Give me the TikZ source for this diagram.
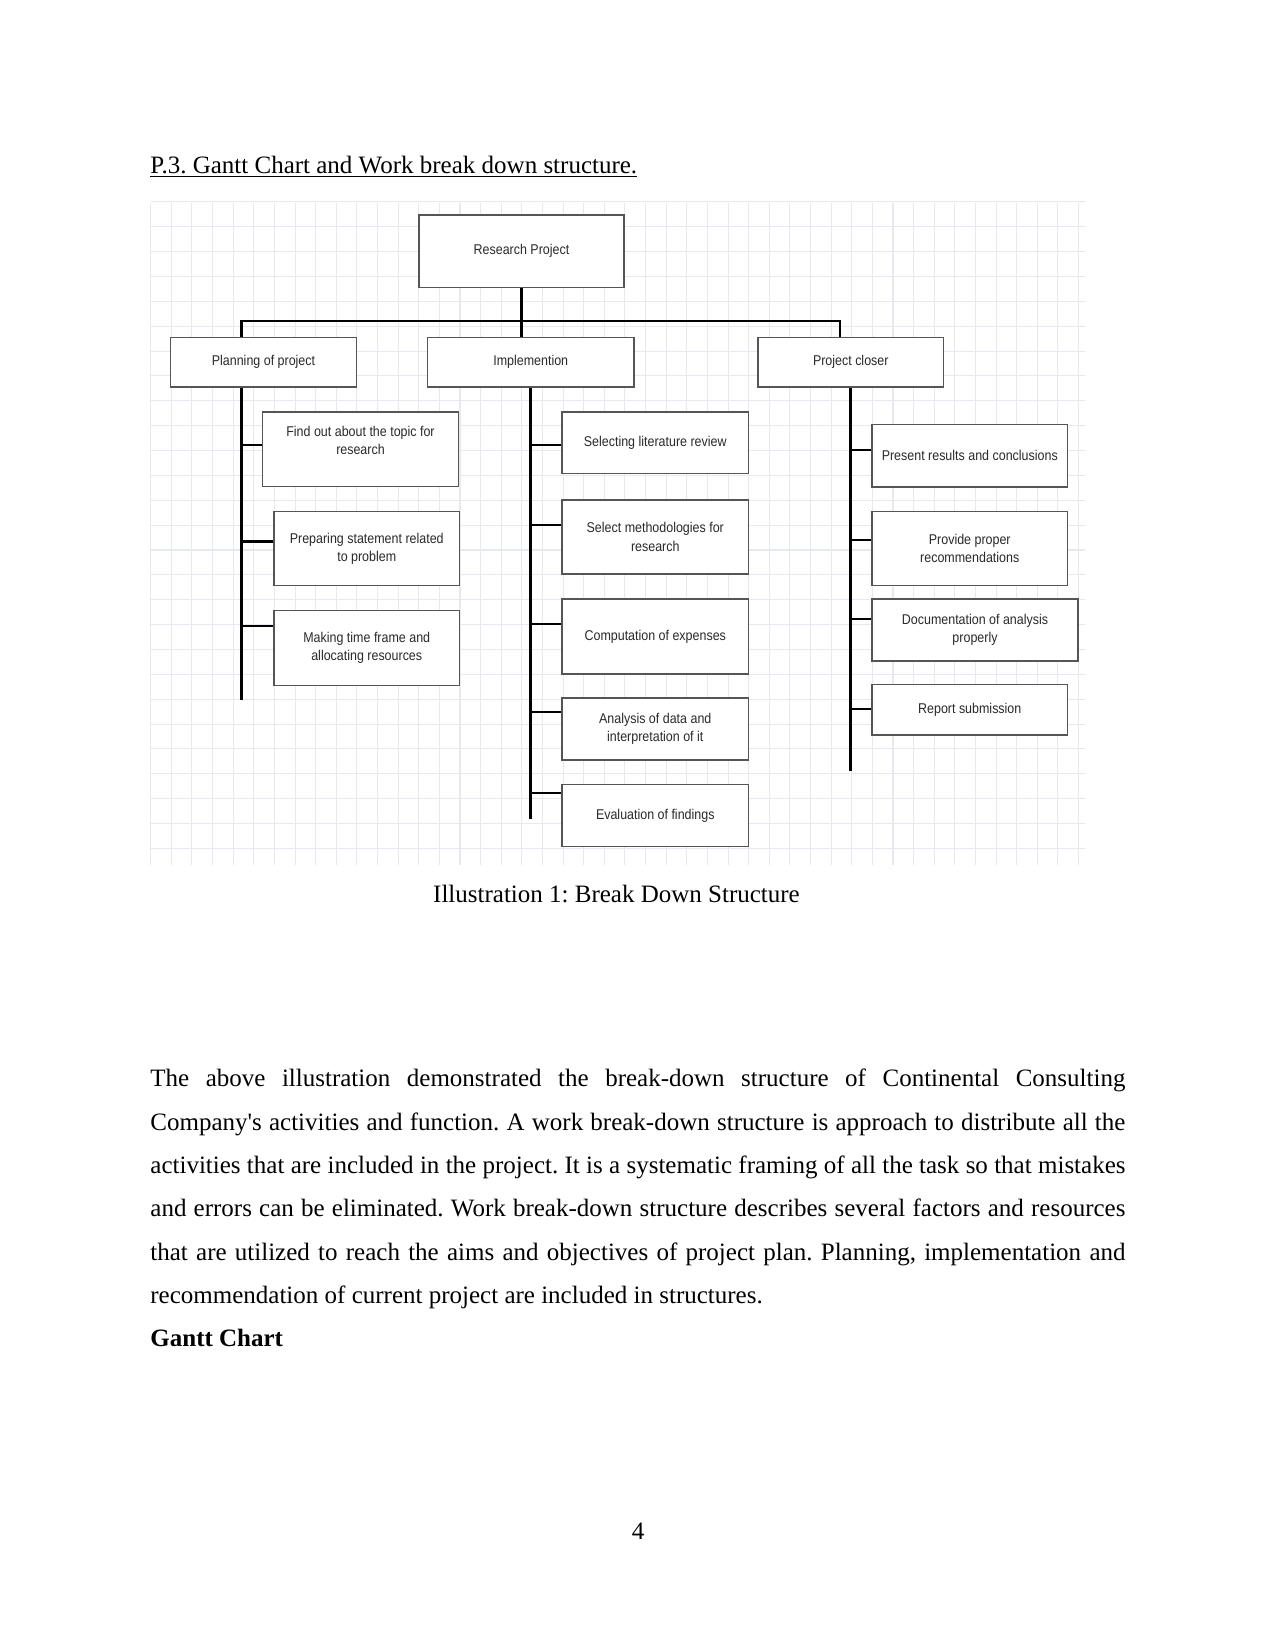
\documentclass[tikz,border=0pt]{standalone}
\usepackage{fontspec}
\setmainfont{Liberation Serif}
\newfontfamily\diagfont[FakeStretch=0.88]{Liberation Sans}
\definecolor{gridc}{HTML}{E7E9F1}
\definecolor{boxc}{HTML}{555555}
\definecolor{boxtext}{HTML}{2A2A2A}
\tikzset{
  wbox/.style={draw=boxc, line width=0.9pt, fill=white, inner sep=1pt, align=center,
    font=\diagfont\fontsize{6.8}{8.8}\selectfont, text=boxtext},
  conn/.style={line width=1.4pt, draw=black},
  gridline/.style={draw=gridc, line width=0.5pt},
  body/.style={font=\fontsize{12}{20.8}\selectfont, inner sep=0pt, anchor=base west, text=black},
}
\newcommand\wbsbox[6]{%
  \pgfmathsetmacro\bw{(#4-#2)*0.48}%
  \pgfmathsetmacro\bh{(#5-#3)*0.48}%
  \node[wbox, minimum width=\bw pt, minimum height=\bh pt] (#1) at ({(#2+#4)/2},{(#3+#5)/2}) {#6};}
\newcommand\straightapos{{\XeTeXglyph\XeTeXcharglyph"0027\relax}}
\frenchspacing
\begin{document}
\begin{tikzpicture}[x=0.48pt, y=-0.48pt]
\useasboundingbox (0,0) rectangle (1275,1651);
\fill[white] (0,0) rectangle (1275,1651);

% grid background
\foreach \i in {-1,...,44} {
  \draw[gridline] ({171.3+20.62*\i},203) -- ({171.3+20.62*\i},865);
}
\foreach \j in {-1,...,25} {
  \draw[gridline] (150.5,{226.7+24.87*\j}) -- (1085,{226.7+24.87*\j});
}

% boxes
\wbsbox{rp}{419}{215}{624}{287.5}{Research Project}
\wbsbox{plan}{170.5}{337.5}{356.5}{387}{Planning of project}
\wbsbox{impl}{427.5}{337.5}{634}{387}{Implemention}
\wbsbox{pc}{758}{337.5}{943.5}{387}{Project closer}

\wbsbox{f1}{262.5}{412}{458.5}{486.5}{Find out about the topic for\\research\\\mbox{}}
\wbsbox{f2}{274}{511.5}{459.5}{585.5}{Preparing statement related\\to problem}
\wbsbox{f3}{274}{610.5}{459.5}{685.5}{Making time frame and\\allocating resources}

\wbsbox{i1}{562}{412}{748.5}{473.5}{Selecting literature review}
\wbsbox{i2}{562}{500}{748.5}{574}{Select methodologies for\\research}
\wbsbox{i3}{562}{599}{748.5}{674}{Computation of expenses}
\wbsbox{i4}{562}{698}{748.5}{760}{Analysis of data and\\interpretation of it}
\wbsbox{i5}{562}{784.5}{748.5}{846.5}{Evaluation of findings}

\wbsbox{c1}{872}{424.5}{1067.5}{487}{Present results and conclusions}
\wbsbox{c2}{872}{511.5}{1067.5}{585.5}{Provide proper\\recommendations}
\wbsbox{c3}{872}{599}{1078}{661}{Documentation of analysis\\properly}
\wbsbox{c4}{872}{684.5}{1067.5}{735}{Report submission}

% top-level connectors
\coordinate (busL) at (241.7,321);
\coordinate (busR) at (840,321);
\draw[conn] (busL |- plan.north) -- (busL) -- (busR) -- (busR |- pc.north);
\draw[conn] (rp.south) -- (rp.south |- impl.north);

% planning spine and branches
\coordinate (pEnd) at (241.7,700);
\draw[conn] (pEnd |- plan.south) -- (pEnd);
\coordinate (pb1) at (241.7,445);
\coordinate (pb2) at (241.7,541.7);
\coordinate (pb3) at (241.7,626);
\draw[conn] (pb1) -- (pb1 -| f1.west);
\draw[conn] (pb2) -- (pb2 -| f2.west);
\draw[conn] (pb3) -- (pb3 -| f3.west);

% implementation spine and branches
\coordinate (iEnd) at (530.75,819);
\draw[conn] (impl.south) -- (iEnd);
\coordinate (ib1) at (530.75,445);
\coordinate (ib2) at (530.75,525);
\coordinate (ib3) at (530.75,624);
\coordinate (ib4) at (530.75,712);
\coordinate (ib5) at (530.75,793);
\draw[conn] (ib1) -- (ib1 -| i1.west);
\draw[conn] (ib2) -- (ib2 -| i2.west);
\draw[conn] (ib3) -- (ib3 -| i3.west);
\draw[conn] (ib4) -- (ib4 -| i4.west);
\draw[conn] (ib5) -- (ib5 -| i5.west);

% closer spine and branches
\coordinate (cEnd) at (850.75,770.7);
\draw[conn] (pc.south) -- (cEnd);
\coordinate (cb1) at (850.75,450);
\coordinate (cb2) at (850.75,540);
\coordinate (cb3) at (850.75,619);
\coordinate (cb4) at (850.75,709);
\draw[conn] (cb1) -- (cb1 -| c1.west);
\draw[conn] (cb2) -- (cb2 -| c2.west);
\draw[conn] (cb3) -- (cb3 -| c3.west);
\draw[conn] (cb4) -- (cb4 -| c4.west);

% page text
\node[body] (title) at (150,173.5) {\underline{P.3. Gantt Chart and Work break down structure.}};
\node[body, anchor=base] (cap) at (616.5,902.3) {Illustration 1: Break Down Structure};

\node[body] (l1) at (150,1086.7) {\makebox[468pt][s]{The above illustration demonstrated the break-down structure of Continental Consulting}};
\node[body] (l2) at (150,1130) {\makebox[468pt][s]{Company\straightapos s activities and function. A work break-down structure is approach to distribute all the}};
\node[body] (l3) at (150,1173.3) {\makebox[468pt][s]{activities that are included in the project. It is a systematic framing of all the task so that mistakes}};
\node[body] (l4) at (150,1216.6) {\makebox[468pt][s]{and errors can be eliminated. Work break-down structure describes several factors and resources}};
\node[body] (l5) at (150,1260) {\makebox[468pt][s]{that are utilized to reach the aims and objectives of project plan. Planning, implementation and}};
\node[body] (l6) at (150,1303.3) {recommendation of current project are included in structures.};
\node[body, font=\fontsize{12}{20.8}\selectfont\bfseries] (gc) at (150,1346.6) {Gantt Chart};

\node[body, anchor=base] (pg) at (638,1539.3) {4};
\end{tikzpicture}
\end{document}
